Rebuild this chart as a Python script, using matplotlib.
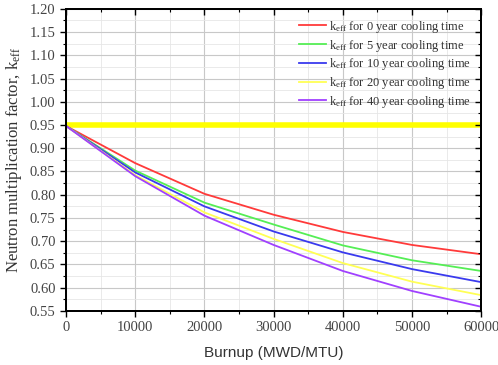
import numpy as np
import matplotlib
matplotlib.use("Agg")
import matplotlib.pyplot as plt
from matplotlib.ticker import MultipleLocator

plt.rcParams['font.family'] = ['Liberation Serif', 'DejaVu Serif']
plt.rcParams['mathtext.fontset'] = 'stix'

burnup = [0, 10000, 20000, 30000, 40000, 50000, 60000]
k_0yr = [0.948, 0.868, 0.802, 0.757, 0.720, 0.692, 0.672]
k_5yr = [0.948, 0.852, 0.783, 0.736, 0.691, 0.659, 0.636]
k_10yr = [0.948, 0.848, 0.775, 0.721, 0.676, 0.640, 0.612]
k_20yr = [0.948, 0.842, 0.762, 0.705, 0.653, 0.613, 0.584]
k_40yr = [0.948, 0.840, 0.755, 0.692, 0.636, 0.593, 0.559]
limit = 0.95

series = [
    (k_0yr, '#ff3a3a', '0'),
    (k_5yr, '#55ee55', '5'),
    (k_10yr, '#3a3aee', '10'),
    (k_20yr, '#ffff55', '20'),
    (k_40yr, '#a040ff', '40'),
]

fig = plt.figure(figsize=(4.98, 3.65), dpi=100)
ax = fig.add_axes([0.1325, 0.148, 0.834, 0.828])

ax.axhline(limit, color='#ffff00', lw=4, zorder=2)
for vals, col, yr in series:
    ax.plot(burnup, vals, color=col, lw=1.3, zorder=3,
            label=r'$\mathregular{k_{eff}}$ for %s year cooling time' % yr)

ax.set_xlim(0, 60000)
ax.set_ylim(0.55, 1.20)
ax.xaxis.set_major_locator(MultipleLocator(10000))
ax.xaxis.set_minor_locator(MultipleLocator(5000))
ax.yaxis.set_major_locator(MultipleLocator(0.05))
ax.yaxis.set_minor_locator(MultipleLocator(0.025))
ax.yaxis.set_major_formatter(matplotlib.ticker.FormatStrFormatter('%.2f'))

ax.grid(which='major', color='#c8c8c8', lw=0.8)
ax.grid(which='minor', color='#e6e6e6', lw=0.6)
ax.set_axisbelow(True)

ax.tick_params(which='both', direction='out', labelsize=10.5, labelcolor='#444444')
ax.tick_params(which='major', length=4, width=1)
ax.tick_params(which='minor', length=2.5, width=0.8)

# mirrored inward ticks along the top and right edges
topx = ax.twiny()
topx.set_xlim(ax.get_xlim())
topx.xaxis.set_major_locator(MultipleLocator(10000))
topx.xaxis.set_minor_locator(MultipleLocator(5000))
topx.tick_params(axis='x', which='both', direction='in', labeltop=False)
topx.tick_params(axis='x', which='major', length=4, width=1)
topx.tick_params(axis='x', which='minor', length=2.5, width=0.8)
righty = ax.twinx()
righty.set_ylim(ax.get_ylim())
righty.yaxis.set_major_locator(MultipleLocator(0.05))
righty.yaxis.set_minor_locator(MultipleLocator(0.025))
righty.tick_params(axis='y', which='both', direction='in', labelright=False)
righty.tick_params(axis='y', which='major', length=4, width=1)
righty.tick_params(axis='y', which='minor', length=2.5, width=0.8)
for a in (ax, topx, righty):
    for s in a.spines.values():
        s.set_linewidth(1.2)

ax.set_xlabel('Burnup (MWD/MTU)', family=['Liberation Sans'], fontsize=11,
              color='#333333', labelpad=8)
ax.set_ylabel(r'Neutron multiplication factor, $\mathregular{k_{eff}}$',
              fontsize=12, color='#333333', labelpad=4)

ax.legend(loc='upper right', frameon=False, fontsize=9, handlelength=2.1,
          handletextpad=0.3, labelspacing=0.22, borderaxespad=0.4,
          labelcolor='#333333')

fig.savefig('out.png', dpi=100)
